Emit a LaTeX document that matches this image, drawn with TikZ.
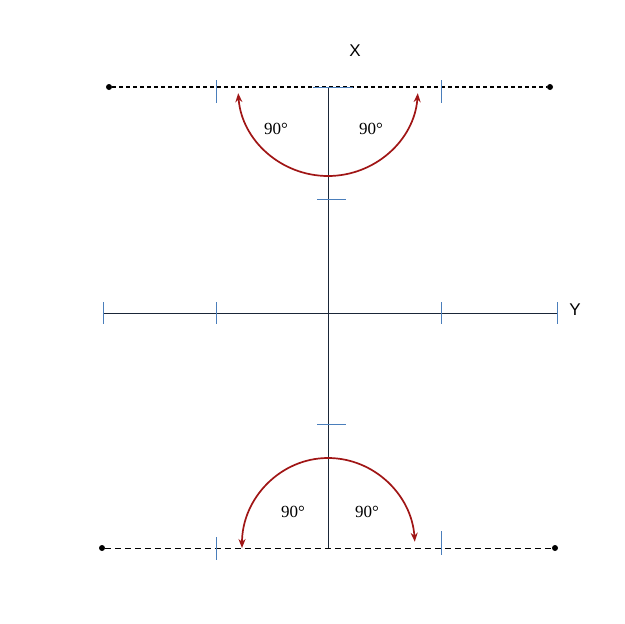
\documentclass[tikz,border=0pt]{standalone}
\usepackage{fontspec}
\setmainfont{Liberation Serif}
\newfontfamily\labsans{Liberation Sans}
\usetikzlibrary{arrows.meta}
\definecolor{axiscol}{HTML}{1A2638}
\definecolor{tickcol}{HTML}{4A7EBB}
\definecolor{arccol}{HTML}{A01515}
\tikzset{
  axisline/.style={draw=axiscol, line width=1pt},
  tickline/.style={draw=tickcol, line width=0.9pt},
  dashtop/.style={draw=black, line width=1.8pt, dash pattern=on 4pt off 3pt},
  dashbot/.style={draw=black, line width=1pt, dash pattern=on 6pt off 4pt},
  enddot/.style={circle, fill=black, inner sep=0pt, minimum size=6pt},
  arcarrow/.style={draw=arccol, line width=1.7pt, -{Stealth[length=9pt,width=7pt]}},
  anglabel/.style={font=\fontsize{17}{17}\selectfont, inner sep=0pt},
  axislabel/.style={font=\labsans\fontsize{17}{17}\selectfont, inner sep=0pt}
}
\begin{document}
\begin{tikzpicture}[x=1pt,y=-1pt]
\useasboundingbox[fill=white] (0,0) rectangle (624,624);
% end points
\node[enddot] (tl) at (109,87) {};
\node[enddot] (tr) at (550,87) {};
\node[enddot] (bl) at (102,548) {};
\node[enddot] (br) at (555,548) {};
% dashed lines
\draw[dashtop] (tl) -- (tr);
\draw[dashbot] (bl) -- (br);
% axes
\coordinate (vtop) at (328,87);
\coordinate (vbot) at (328,548);
\coordinate (yl) at (103,313);
\coordinate (yr) at (557,313);
\draw[axisline] (vtop) -- (vbot);
\draw[axisline] (yl) -- (yr);
% ticks on horizontal axis
\foreach \x in {103,216,441,557}{
  \draw[tickline] (\x,302) -- (\x,324);
}
% ticks on vertical axis
\coordinate (t1a) at (313,87); \coordinate (t1b) at (353,87);
\coordinate (t2a) at (317,199); \coordinate (t2b) at (346,199);
\coordinate (t3a) at (317,424); \coordinate (t3b) at (346,424);
\draw[tickline] (t1a) -- (t1b);
\draw[tickline] (t2a) -- (t2b);
\draw[tickline] (t3a) -- (t3b);
% ticks on dashed lines
\draw[tickline] (216,80) -- (216,103);
\draw[tickline] (441,80) -- (441,103);
\draw[tickline] (216,537) -- (216,560);
\draw[tickline] (441,531) -- (441,555);
% top arcs
\coordinate (topbot) at (328,176);
\draw[arcarrow] (topbot) arc[start angle=90, end angle=176, x radius=90, y radius=89];
\draw[arcarrow] (topbot) arc[start angle=90, end angle=4, x radius=90, y radius=89];
% bottom arcs
\coordinate (bottop) at (328,458);
\draw[arcarrow] (bottop) arc[start angle=-90, end angle=-180, x radius=86, y radius=90];
\draw[arcarrow] (bottop) arc[start angle=-90, end angle=-4, x radius=87, y radius=90];
% labels
\node[anglabel] (a1) at (276,129) {90°};
\node[anglabel] (a2) at (371,129) {90°};
\node[anglabel] (a3) at (293,512) {90°};
\node[anglabel] (a4) at (367,512) {90°};
\node[axislabel] (lx) at (355,51) {X};
\node[axislabel] (ly) at (575,310) {Y};
\end{tikzpicture}
\end{document}
